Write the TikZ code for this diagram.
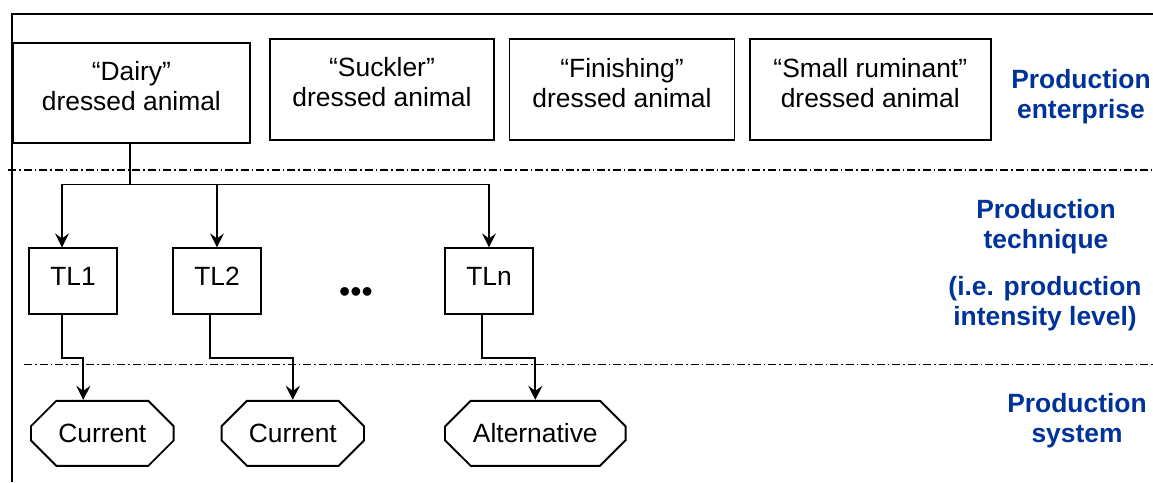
\documentclass[tikz,border=0pt]{standalone}
\usepackage{fontspec}
\setmainfont{Liberation Sans}
\usepackage{xcolor}
\usepackage{tikz}
\usetikzlibrary{arrows.meta,shapes.misc,positioning,calc}
\definecolor{prodblue}{RGB}{0,51,153}

\begin{document}
\begin{tikzpicture}[x=1pt, y=-1pt,
    every node/.style={font=\fontsize{26.4}{30}\selectfont, inner sep=0pt},
    animalbox/.style={draw, line width=1.9pt, minimum height=100.6pt},
    animaltext/.style={align=center},
    levelbox/.style={draw, line width=1.9pt, minimum width=87.5pt, minimum height=65.7pt, text depth=10pt},
    sysbox/.style={draw, line width=1.9pt, chamfered rectangle, chamfered rectangle xsep=19pt, chamfered rectangle ysep=16pt, minimum height=65pt},
    tier/.style={text=prodblue, font=\fontsize{26.4}{30}\selectfont\bfseries, align=center},
    link/.style={line width=1.9pt},
    linkarrow/.style={link, -{Stealth[length=14pt, width=14pt, inset=5pt]}},
    divider/.style={line width=1.3pt, dash pattern=on 8pt off 3pt on 1.5pt off 3pt}]
    \useasboundingbox (0,0) rectangle (1153,482);

    % Frame
    \draw[link] (12,482) -- (12,14) -- (1153,14);

    % Level dividers
    \draw[divider] (8,170) -- (1153,170);
    \draw[divider] (24,364.5) -- (1153,364.5);

    % Top row: dressed animals
    \node[animalbox, minimum width=237.3pt] (dairy) at (131.4,93) {};
    \node[animaltext] (dairytxt) at ([yshift=6.5pt]dairy.center) {“Dairy”\\dressed animal};
    \node[animalbox, minimum width=224pt, minimum height=101pt] (suckler) at (382,89.5) {};
    \node[animaltext] (sucklertxt) at ([yshift=7pt]suckler.center) {“Suckler”\\dressed animal};
    \node[animalbox, minimum width=225pt, minimum height=101pt] (finishing) at (622,89.6) {};
    \node[animaltext] (finishingtxt) at ([yshift=7pt]finishing.center) {“Finishing”\\dressed animal};
    \node[animalbox, minimum width=240.7pt, minimum height=101pt] (smallrum) at (870.3,89.6) {};
    \node[animaltext] (smallrumtxt) at ([yshift=7pt]smallrum.center) {“Small ruminant”\\dressed animal};

    % Middle row: intensity levels
    \node[levelbox] (tl1) at (73,281.2) {TL1};
    \node[levelbox] (tl2) at (217,281.2) {TL2};
    \node[levelbox] (tln) at (489,281.2) {TLn};
    \node[font=\fontsize{32}{32}\selectfont] (dots) at (356,295) {•••};

    % Bottom row: systems
    \node[sysbox, minimum width=142.7pt] (cur1) at (102.3,433.3) {Current};
    \node[sysbox, minimum width=142.3pt] (cur2) at (292.8,433.3) {Current};
    \node[sysbox, minimum width=180.7pt] (alt) at (535.3,433.3) {Alternative};

    % Connectors
    \draw[link] ([xshift=-1.4pt]dairy.south) -- ++(0,40.2) coordinate (fork);
    \draw[linkarrow] (fork) -| ([xshift=-11pt]tl1.north);
    \draw[linkarrow] (fork) -| (tl2.north);
    \draw[linkarrow] (fork) -| (tln.north);
    \draw[linkarrow] ([xshift=-11pt]tl1.south) -- ++(0,43) -| ([xshift=-19pt]cur1.north);
    \draw[linkarrow] ([xshift=-7pt]tl2.south) -- ++(0,43) -| (cur2.north);
    \draw[linkarrow] ([xshift=-7pt]tln.south) -- ++(0,43) -| (alt.north);

    % Level labels
    \node[tier] (enterprise) at (1081,96.4) {Production\\enterprise};
    \node[tier] (technique) at (1046,227) {Production\\technique};
    \node[tier] (intensity) at (1045,304) {(i.e. production\\intensity level)};
    \node[tier] (system) at (1077,421) {Production\\system};
\end{tikzpicture}
\end{document}
